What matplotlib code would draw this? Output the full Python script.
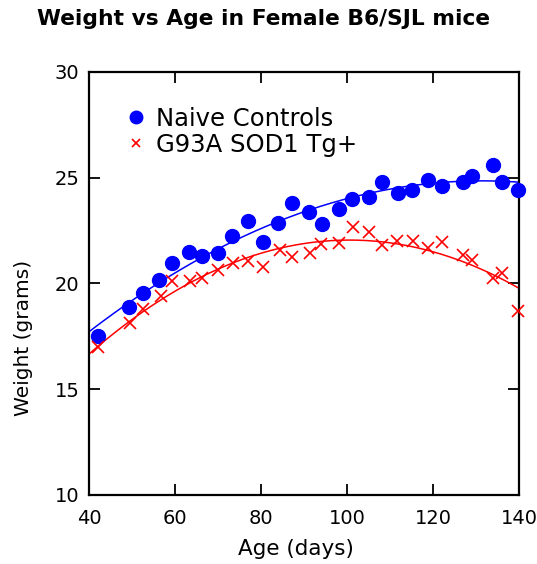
import numpy as np
import matplotlib
matplotlib.use("Agg")
import matplotlib.pyplot as plt

# Data
naive_age = [42.2, 49.4, 52.6, 56.3, 59.4, 63.3, 66.3, 70.1, 73.2, 77.0, 80.4, 84.0, 87.1,
             91.2, 94.3, 98.2, 101.1, 105.0, 108.1, 111.9, 115.0, 118.9, 122.0, 126.9,
             129.0, 133.9, 136.0, 139.8]
naive_wt = [17.5, 18.9, 19.55, 20.15, 20.95, 21.5, 21.3, 21.45, 22.25, 22.95, 21.95, 22.85,
            23.8, 23.4, 22.8, 23.5, 24.0, 24.1, 24.8, 24.3, 24.4, 24.9, 24.6, 24.8,
            25.1, 25.6, 24.8, 24.4]

tg_age = [42.0, 49.5, 52.6, 56.7, 59.4, 63.5, 66.3, 70.1, 73.4, 77.0, 80.5, 84.4, 87.1,
          91.4, 93.9, 98.2, 101.5, 105.2, 108.2, 111.6, 115.3, 118.9, 122.0, 127.0,
          129.0, 134.0, 136.0, 139.8]
tg_wt = [17.0, 18.15, 18.8, 19.4, 20.1, 20.1, 20.25, 20.65, 20.95, 21.05, 20.8, 21.6, 21.25,
         21.45, 21.85, 21.9, 22.65, 22.45, 21.8, 22.0, 22.0, 21.7, 21.95, 21.35,
         21.1, 20.25, 20.5, 18.7]

x_ticks = [40, 60, 80, 100, 120, 140]
y_ticks = [10, 15, 20, 25, 30]

fig = plt.figure(figsize=(5.37, 5.64), dpi=100)
ax = fig.add_axes([89/537, 1-495/564, 430/537, 423/564])

xs = np.linspace(40, 140, 200)
pb = np.polyfit(naive_age, naive_wt, 2)
pr = np.polyfit(tg_age, tg_wt, 2)
ax.plot(xs, np.polyval(pb, xs), color='#0000ff', lw=1.1, zorder=2)
ax.plot(xs, np.polyval(pr, xs), color='#ff0000', lw=1.1, zorder=2)

ax.plot(naive_age, naive_wt, 'o', color='#0000ff', ms=10, mec='#0000ff',
        linestyle='none', label='Naive Controls', zorder=3, clip_on=False)
ax.plot(tg_age, tg_wt, 'x', color='#ff0000', ms=8, mew=1.2,
        linestyle='none', label='G93A SOD1 Tg+', zorder=3, clip_on=False)

ax.set_xlim(40, 140)
ax.set_ylim(10, 30)
ax.set_xticks(x_ticks)
ax.set_yticks(y_ticks)
ax.tick_params(direction='in', length=8, width=1.3, top=True, right=True,
               labelsize=14, pad=7, colors='black')
ax.tick_params(axis='x', pad=10)
for s in ax.spines.values():
    s.set_linewidth(1.6)

ax.set_xlabel('Age (days)', fontsize=15.5)
ax.set_ylabel('Weight (grams)', fontsize=14.5, va='center')
ax.xaxis.set_label_coords(0.481, -0.103)
ax.yaxis.set_label_coords(-0.152, 0.371)

leg = ax.legend(loc='upper left', bbox_to_anchor=(0.065, 0.947), frameon=False,
                fontsize=17.5, handlelength=0.6, handletextpad=0.5,
                labelspacing=0.1, borderpad=0)
leg.legend_handles[0].set_markersize(9)
leg.legend_handles[1].set_markersize(6)

fig.text(0.491, 1-19/564, 'Weight vs Age in Female B6/SJL mice', ha='center', va='center',
         fontsize=15.7, fontweight='bold')

fig.savefig('out.png', dpi=100)
